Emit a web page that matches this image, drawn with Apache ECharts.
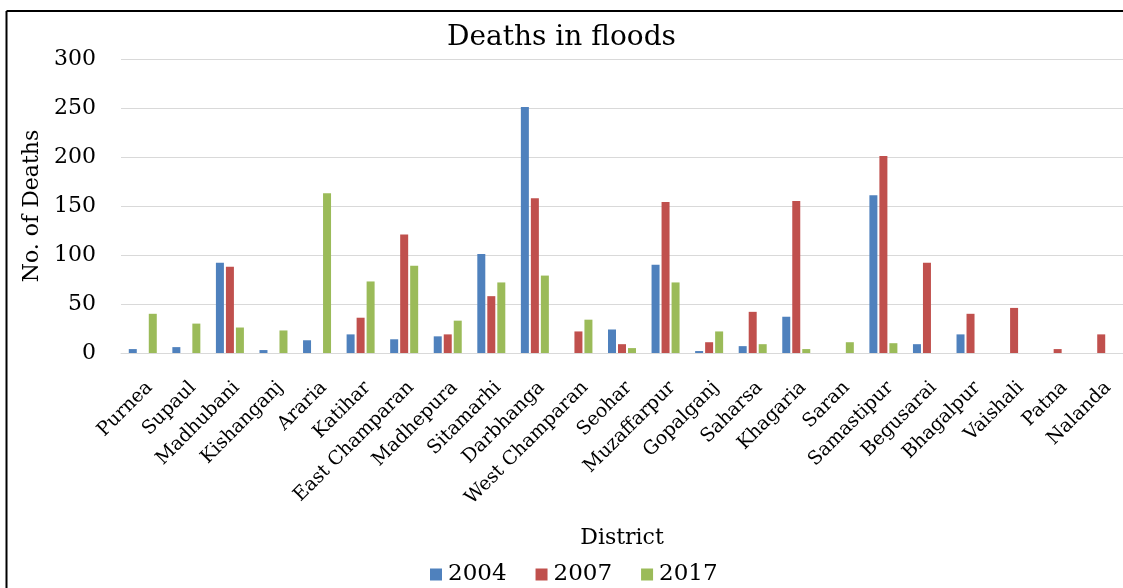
<!DOCTYPE html>
<html>
<head>
<meta charset="utf-8">
<style>
  html, body { margin: 0; padding: 0; background: #fff; }
  #chart { width: 1123px; height: 588px; }
</style>
<script src="https://cdn.jsdelivr.net/npm/echarts@6/dist/echarts.min.js"></script>
</head>
<body>
<div id="chart"></div>
<script>
// District-wise flood deaths, Bihar
const districts = [
  'Purnea', 'Supaul', 'Madhubani', 'Kishanganj', 'Araria', 'Katihar',
  'East Champaran', 'Madhepura', 'Sitamarhi', 'Darbhanga', 'West Champaran',
  'Seohar', 'Muzaffarpur', 'Gopalganj', 'Saharsa', 'Khagaria', 'Saran',
  'Samastipur', 'Begusarai', 'Bhagalpur', 'Vaishali', 'Patna', 'Nalanda'
];
const deaths2004 = [4, 6, 92, 3, 13, 19, 14, 17, 101, 251, 0, 24, 90, 2, 7, 37, 0, 161, 9, 19, 0, 0, 0];
const deaths2007 = [0, 0, 88, 0, 0, 36, 121, 19, 58, 158, 22, 9, 154, 11, 42, 155, 0, 201, 92, 40, 46, 4, 19];
const deaths2017 = [40, 30, 26, 23, 163, 73, 89, 33, 72, 79, 34, 5, 72, 22, 9, 4, 11, 10, 0, 0, 0, 0, 0];
const yearLabels = ['2004', '2007', '2017'];
const yTicks = { min: 0, max: 300, step: 50 };

const serif = 'DejaVu Serif';
const textColor = '#000';
const colors = ['#4f81bd', '#c0504d', '#9bbb59'];

const chart = echarts.init(document.getElementById('chart'), null, { renderer: 'canvas' });

function barSeries(name, data, color) {
  return {
    name: name,
    type: 'bar',
    data: data,
    barWidth: 8,
    barGap: '25%',
    itemStyle: { color: color },
    emphasis: { disabled: true }
  };
}

chart.setOption({
  animation: false,
  backgroundColor: '#ffffff',
  title: {
    text: 'Deaths in floods',
    left: 'center',
    top: 19,
    textStyle: { fontFamily: serif, fontSize: 28, fontWeight: 'normal', color: textColor }
  },
  legend: {
    data: yearLabels,
    top: 558,
    left: 425,
    itemWidth: 12,
    itemHeight: 12,
    itemGap: 29,
    icon: 'rect',
    textStyle: { fontFamily: serif, fontSize: 23, color: textColor, padding: [0, 0, 0, 1] }
  },
  grid: { left: 121, right: -16, top: 59, bottom: 235, containLabel: false },
  xAxis: {
    type: 'category',
    data: districts,
    name: 'District',
    nameLocation: 'middle',
    nameGap: 174,
    nameTextStyle: { fontFamily: serif, fontSize: 22, color: textColor },
    axisLine: { lineStyle: { color: '#d9d9d9', width: 1 } },
    axisTick: { show: false },
    axisLabel: {
      interval: 0,
      rotate: 45,
      margin: 25,
      align: 'right',
      verticalAlign: 'top',
      fontFamily: serif,
      fontSize: 19,
      color: textColor
    }
  },
  yAxis: {
    type: 'value',
    min: yTicks.min,
    max: yTicks.max,
    interval: yTicks.step,
    name: 'No. of Deaths',
    nameLocation: 'middle',
    nameGap: 76,
    nameTextStyle: { fontFamily: serif, fontSize: 22, color: textColor },
    axisLine: { show: false },
    axisTick: { show: false },
    axisLabel: { margin: 25, fontFamily: serif, fontSize: 22, color: textColor },
    splitLine: { lineStyle: { color: '#d9d9d9', width: 1 } }
  },
  series: [
    barSeries(yearLabels[0], deaths2004, colors[0]),
    barSeries(yearLabels[1], deaths2007, colors[1]),
    barSeries(yearLabels[2], deaths2017, colors[2])
  ],
  graphic: [
    {
      type: 'line',
      shape: { x1: 6.5, y1: 11, x2: 1123, y2: 11 },
      style: { stroke: '#000', lineWidth: 2 },
      silent: true
    },
    {
      type: 'line',
      shape: { x1: 6.5, y1: 11, x2: 6.5, y2: 588 },
      style: { stroke: '#000', lineWidth: 2 },
      silent: true
    }
  ]
});
</script>
</body>
</html>
